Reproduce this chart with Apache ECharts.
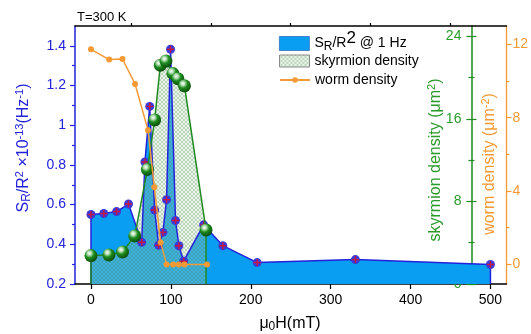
<!DOCTYPE html>
<html>
<head>
<meta charset="utf-8">
<script src="https://cdn.jsdelivr.net/npm/echarts@6/dist/echarts.min.js"></script>
<style>
  html, body { margin: 0; padding: 0; background: #fff; }
  #chart { width: 531px; height: 334px; }
</style>
</head>
<body>
<div id="chart"></div>
<script>
// S_R/R^2 @ 1 Hz (x10^-13 Hz^-1) vs field (mT)
const noiseField = [0, 16, 32, 47, 63.5, 67.5, 73.5, 79.7, 84.7, 90, 94.6, 99.6, 105.8, 110, 116, 141, 165, 208, 331, 500];
const noiseValue = [0.55, 0.555, 0.565, 0.603, 0.41, 0.815, 1.095, 0.573, 0.395, 0.46, 0.625, 1.383, 0.52, 0.393, 0.315, 0.498, 0.393, 0.308, 0.323, 0.298];
// skyrmion density (um^2)
const skyrmionField = [0, 22.4, 39.5, 54.8, 70.6, 79.7, 86.8, 93.8, 102.5, 108.7, 117, 144];
const skyrmionValue = [2.75, 2.82, 3.1, 4.66, 11.1, 15.9, 21.2, 21.6, 20.4, 19.9, 19.2, 5.24];
// worm density (um^-2)
const wormField = [0, 22.8, 39.4, 55.2, 71.4, 79.3, 87.2, 94.6, 102.9, 110, 117, 145.3];
const wormValue = [11.73, 11.17, 11.2, 9.84, 7.32, 4.2, 1.2, 0, 0, 0, 0, 0];

const xTicks = [0, 100, 200, 300, 400, 500];
const xMinorTicks = [50, 150, 250, 350, 450];
const noiseTicks = [0.2, 0.4, 0.6, 0.8, 1, 1.2, 1.4];
const noiseMinorTicks = [0.3, 0.5, 0.7, 0.9, 1.1, 1.3];
const skyrmionTicks = [0, 8, 16, 24];
const skyrmionMinorTicks = [4, 12, 20];
const wormTicks = [0, 4, 8, 12];
const wormMinorTicks = [2, 6, 10];

const FONT = '"Liberation Sans", Arial, sans-serif';
const BLUE = '#2222dd';
const AREA_BLUE = '#0a9ef2';
const GREEN = '#1f8a1f';
const GREEN_TEXT = '#2a9a2a';
const ORANGE = '#f39a35';
const NOISE_MIN = 0.2, NOISE_MAX = 1.5;
const SK_MIN = 0, SK_MAX = 25;
const WORM_MIN = -1.07, WORM_MAX = 13;

const zip = (xs, ys) => xs.map((x, i) => [x, ys[i]]);

// close a curve down to the axis floor at both ends
const closed = (xs, ys, floor) => [
  { value: [xs[0], floor], symbol: 'none' },
  ...zip(xs, ys),
  { value: [xs[xs.length - 1], floor], symbol: 'none' }
];

function hatch() {
  const c = document.createElement('canvas');
  c.width = 4; c.height = 4;
  const ctx = c.getContext('2d');
  ctx.fillStyle = 'rgba(185,222,185,0.3)';
  ctx.fillRect(0, 0, 4, 4);
  ctx.fillStyle = 'rgba(60,125,60,0.26)';
  for (let i = 0; i < 4; i++) {
    ctx.fillRect(i, i, 1, 1);
    ctx.fillRect(3 - i, i, 1, 1);
  }
  return c;
}
const hatchFill = { image: hatch(), repeat: 'repeat' };

const sphere = {
  type: 'radial', x: 0.38, y: 0.32, r: 0.7,
  colorStops: [
    { offset: 0, color: '#ffffff' },
    { offset: 0.22, color: '#b5e0b5' },
    { offset: 0.5, color: '#1e8c1e' },
    { offset: 1, color: '#0a4a0a' }
  ]
};

// rich text styles: normal / subscript / superscript
function richSet(size, L, subSize, subDown, supSize, supUp) {
  return {
    n: { fontSize: size, lineHeight: L, fontFamily: FONT },
    s: { fontSize: subSize, lineHeight: L, verticalAlign: 'top', fontFamily: FONT,
         padding: [Math.max(0, L / 2 - subSize / 2 + subDown), 0, 0, 0] },
    p: { fontSize: supSize, lineHeight: L, verticalAlign: 'bottom', fontFamily: FONT,
         padding: [0, 0, Math.max(0, L / 2 - supSize / 2 + supUp), 0] }
  };
}
const titleRich = richSet(16, 18, 12, 3, 11, 4);

// tick-only overlay axis
function tickAxis(opts) {
  return Object.assign({
    type: 'value',
    axisLine: { show: false, onZero: false },
    axisLabel: { show: false },
    splitLine: { show: false }
  }, opts, {
    axisTick: Object.assign({ show: true }, opts.axisTick)
  });
}

const chart = echarts.init(document.getElementById('chart'));

const legendBase = {
  orient: 'vertical',
  left: 279,
  padding: 0,
  itemWidth: 30,
  itemHeight: 14,
  textStyle: { fontSize: 14, color: '#000', fontFamily: FONT }
};

const option = {
  animation: false,
  backgroundColor: '#fff',
  textStyle: { fontFamily: FONT },
  grid: { left: 75, right: 24, top: 26, bottom: 50 },
  legend: [
    Object.assign({}, legendBase, {
      top: 30,
      textStyle: { fontSize: 14, color: '#000', fontFamily: FONT, rich: richSet(14, 14, 12, 3, 17, 5) },
      formatter: () => '{n|S}{s|R}{n|/R}{p|2}{n| @ 1 Hz}',
      data: [{ name: 'SR/R2', icon: 'rect', itemStyle: { color: AREA_BLUE, borderColor: '#3070c0', borderWidth: 0.8 } }]
    }),
    Object.assign({}, legendBase, {
      top: 54,
      itemHeight: 12,
      data: [{ name: 'skyrmion density', icon: 'rect', itemStyle: { color: hatchFill, borderColor: '#8a8a8a', borderWidth: 1 } }]
    }),
    Object.assign({}, legendBase, {
      top: 73,
      itemHeight: 7,
      data: [{ name: 'worm density' }]
    })
  ],
  xAxis: [
    {
      type: 'value', min: -20, max: 520,
      axisLine: { onZero: false, lineStyle: { color: '#000', width: 1.5 } },
      axisTick: { customValues: xTicks, length: 5, lineStyle: { color: '#000', width: 1.2 } },
      axisLabel: { customValues: xTicks, color: '#000', fontSize: 14, margin: 9, fontFamily: FONT },
      splitLine: { show: false }
    },
    tickAxis({ min: -20, max: 520, axisTick: { customValues: xMinorTicks, length: 3, lineStyle: { color: '#000', width: 1.2 } } }),
    {
      type: 'value', min: -20, max: 520, position: 'top',
      axisLine: { onZero: false, lineStyle: { color: '#000', width: 1.5 } },
      axisTick: { show: false }, axisLabel: { show: false }, splitLine: { show: false }
    }
  ],
  yAxis: [
    {
      type: 'value', min: NOISE_MIN, max: NOISE_MAX, position: 'left',
      axisLine: { onZero: false, lineStyle: { color: BLUE, width: 1.5 } },
      axisTick: { customValues: noiseTicks, length: 5, lineStyle: { color: BLUE, width: 1.2 } },
      axisLabel: { customValues: noiseTicks, color: BLUE, fontSize: 14, margin: 9, fontFamily: FONT },
      splitLine: { show: false }
    },
    tickAxis({ min: NOISE_MIN, max: NOISE_MAX, position: 'left',
      axisTick: { customValues: noiseMinorTicks, length: 3, lineStyle: { color: BLUE, width: 1.2 } } }),
    {
      type: 'value', min: SK_MIN, max: SK_MAX, position: 'right', offset: -35,
      axisLine: { onZero: false, lineStyle: { color: GREEN, width: 1.5 } },
      axisTick: { customValues: skyrmionTicks, inside: true, length: 5, lineStyle: { color: GREEN, width: 1.2 } },
      axisLabel: { customValues: skyrmionTicks, inside: true, color: GREEN_TEXT, fontSize: 14, margin: 10, fontFamily: FONT },
      splitLine: { show: false }
    },
    tickAxis({ min: SK_MIN, max: SK_MAX, position: 'right', offset: -35,
      axisTick: { customValues: skyrmionTicks, length: 5, lineStyle: { color: GREEN, width: 1.2 } } }),
    tickAxis({ min: SK_MIN, max: SK_MAX, position: 'right', offset: -35,
      axisTick: { customValues: skyrmionMinorTicks, inside: true, length: 3, lineStyle: { color: GREEN, width: 1.2 } } }),
    tickAxis({ min: SK_MIN, max: SK_MAX, position: 'right', offset: -35,
      axisTick: { customValues: skyrmionMinorTicks, length: 3, lineStyle: { color: GREEN, width: 1.2 } } }),
    {
      type: 'value', min: WORM_MIN, max: WORM_MAX, position: 'right', offset: 0,
      axisLine: { onZero: false, lineStyle: { color: ORANGE, width: 1.3 } },
      axisTick: { customValues: wormTicks, length: 5, lineStyle: { color: ORANGE, width: 1.2 } },
      axisLabel: { customValues: wormTicks, color: ORANGE, fontSize: 14, margin: 6, fontFamily: FONT },
      splitLine: { show: false }
    },
    tickAxis({ min: WORM_MIN, max: WORM_MAX, position: 'right', offset: 0,
      axisTick: { customValues: wormMinorTicks, length: 3, lineStyle: { color: ORANGE, width: 1.2 } } })
  ],
  graphic: [
    { type: 'text', left: 77, top: 11, style: { text: 'T=300 K', font: '13px ' + FONT, fill: '#000' } },
    {
      type: 'text', x: 24, y: 148, rotation: Math.PI / 2,
      style: {
        text: '{n|S}{s|R}{n|/R}{p|2}{n| ×10}{p|-13}{n|(Hz}{p|-1}{n|)}',
        rich: titleRich, fill: BLUE, align: 'center', verticalAlign: 'middle'
      }
    },
    {
      type: 'text', x: 436, y: 160, rotation: Math.PI / 2,
      style: {
        text: '{n|skyrmion density (μm}{p|2}{n|)}',
        rich: titleRich, fill: GREEN_TEXT, align: 'center', verticalAlign: 'middle'
      }
    },
    {
      type: 'text', x: 490, y: 164, rotation: Math.PI / 2,
      style: {
        text: '{n|worm density (μm}{p|-2}{n|)}',
        rich: titleRich, fill: ORANGE, align: 'center', verticalAlign: 'middle'
      }
    },
    {
      type: 'text', x: 290, y: 324,
      style: {
        text: '{n|μ}{s|0}{n|H(mT)}',
        rich: titleRich, fill: '#000', align: 'center', verticalAlign: 'middle'
      }
    }
  ],
  series: [
    {
      name: 'SR/R2', type: 'line', xAxisIndex: 0, yAxisIndex: 0, z: 2,
      data: zip(noiseField, noiseValue),
      symbol: 'none',
      lineStyle: { width: 0, opacity: 0 },
      itemStyle: { color: AREA_BLUE },
      areaStyle: { color: AREA_BLUE, opacity: 1, origin: 'start' }
    },
    {
      name: 'skyrmion density', type: 'line', xAxisIndex: 0, yAxisIndex: 2, z: 2,
      data: zip(skyrmionField, skyrmionValue),
      symbol: 'none',
      lineStyle: { width: 0, opacity: 0 },
      itemStyle: { color: GREEN },
      areaStyle: { color: hatchFill, opacity: 1, origin: 'start' }
    },
    {
      name: 'noise line', type: 'line', xAxisIndex: 0, yAxisIndex: 0, z: 3,
      data: closed(noiseField, noiseValue, NOISE_MIN),
      symbol: 'circle', symbolSize: 9,
      lineStyle: { color: BLUE, width: 1.5 },
      itemStyle: { color: '#3a3ad8' }
    },
    {
      name: 'noise cross', type: 'scatter', xAxisIndex: 0, yAxisIndex: 0, z: 4,
      data: zip(noiseField, noiseValue),
      symbol: 'path://M4,0H6V4H10V6H6V10H4V6H0V4H4Z', symbolSize: 7,
      itemStyle: { color: '#e8101a' }
    },
    {
      name: 'skyrmion line', type: 'line', xAxisIndex: 0, yAxisIndex: 2, z: 5,
      data: closed(skyrmionField, skyrmionValue, SK_MIN),
      symbol: 'circle', symbolSize: 13,
      lineStyle: { color: GREEN, width: 1.5 },
      itemStyle: { color: sphere }
    },
    {
      name: 'worm density', type: 'line', xAxisIndex: 0, yAxisIndex: 6, z: 6,
      data: zip(wormField, wormValue),
      symbol: 'circle', symbolSize: 6,
      lineStyle: { color: ORANGE, width: 1.5 },
      itemStyle: { color: ORANGE }
    }
  ]
};

chart.setOption(option);
</script>
</body>
</html>
